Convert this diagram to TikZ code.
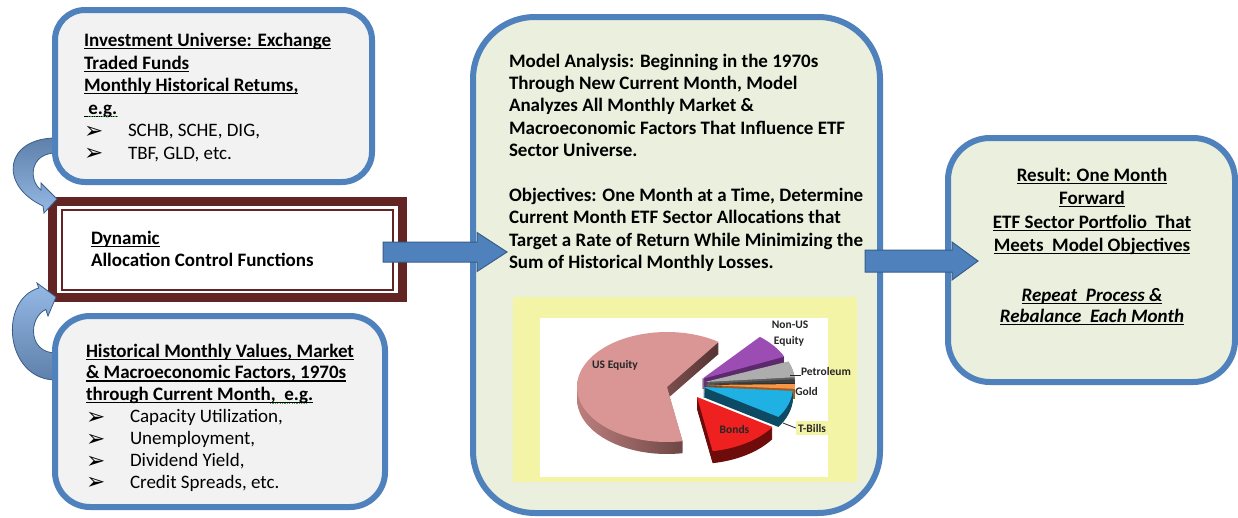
\documentclass[tikz,border=0pt]{standalone}
\usepackage{fontspec}
\setmainfont{Carlito}
\newfontfamily\dejavu{DejaVu Sans}
\usetikzlibrary{calc}
\definecolor{bord}{HTML}{4F81BD}
\definecolor{grayfill}{HTML}{F2F2F2}
\definecolor{greenfill}{HTML}{EAF0DD}
\definecolor{maroonc}{HTML}{632523}
\definecolor{arrowline}{HTML}{385D8A}
\definecolor{chartyellow}{HTML}{F4F4A6}
\definecolor{cdark}{HTML}{5E80AA}
\definecolor{clight}{HTML}{95B9E5}
\definecolor{labeltext}{HTML}{262626}
\definecolor{squig}{HTML}{3CA845}
\definecolor{usTop}{HTML}{D99694}
\definecolor{usSideL}{HTML}{C48684}
\definecolor{usSideR}{HTML}{553332}
\definecolor{purpTop}{HTML}{9B4DB3}
\definecolor{purpSide}{HTML}{5C2A6C}
\definecolor{grayTop}{HTML}{ADADAD}
\definecolor{graySide}{HTML}{5F5F5F}
\definecolor{darkTop}{HTML}{404040}
\definecolor{darkSide}{HTML}{2A2A2A}
\definecolor{goldTop}{HTML}{F79646}
\definecolor{goldSide}{HTML}{A35A1E}
\definecolor{tbTop}{HTML}{1FB0E4}
\definecolor{tbSide}{HTML}{0D4A63}
\definecolor{bondTop}{HTML}{EE2020}
\definecolor{bondSide}{HTML}{6E0B0B}
\newcommand\myul[1]{\setbox0\hbox{#1}\rlap{\rule[-2.6pt]{\wd0}{1.1pt}}\box0}
\newcommand\bul{\makebox[44pt][l]{\hspace{0pt}{\dejavu\fontsize{23}{23}\selectfont\raisebox{-1.5pt}{➢}}}}
\newcommand\sst{\rule{0pt}{15pt}}
\newcommand\myslice[7]{%
  \foreach \d in {#7,...,1}{%
    \fill[#6] (#1,#2-\d) -- ++(#3:90 and 55) arc[start angle=#3,end angle=#4,x radius=90,y radius=55] -- cycle;}%
  \fill[#5] (#1,#2) -- ++(#3:90 and 55) arc[start angle=#3,end angle=#4,x radius=90,y radius=55] -- cycle;}
\begin{document}
\begin{tikzpicture}[x=1pt,y=-1pt,
  bluebox/.style={draw=bord,line width=6pt,rounded corners=#1,inner sep=0pt,outer sep=0pt},
  txt/.style={inner sep=0pt,outer sep=0pt,align=left,font=\fontsize{19}{22.5}\selectfont\bfseries},
  lbl/.style={inner sep=0pt,font=\fontsize{11.5}{12}\selectfont\bfseries,text=labeltext},
  barrow/.style={fill=bord,draw=arrowline,line width=1pt},
  carrow/.style={draw=arrowline,line width=0.8pt}]

\fill[white] (0,0) rectangle (1238,517);
\useasboundingbox (0,0) rectangle (1238,517);

% dynamic box
\node[draw=maroonc,line width=9pt,fill=white,inner sep=0pt,outer sep=0pt,minimum width=350pt,minimum height=96pt] (dyn) at (227.5,249.5) {};
\draw[maroonc,line width=2pt] ($(dyn.north west)+(9.5,8)$) rectangle ($(dyn.south east)+(-10,-8)$);
\node[txt,anchor=north west,font=\fontsize{19}{22}\selectfont\bfseries] (dyntxt) at (91,229) {\sst\myul{Dynamic}\\Allocation Control Functions};

% curved arrows
\path[carrow,shade,top color=cdark,bottom color=clight] (56,138) .. controls (5,138) and (-2,185) .. (43,206) -- (44,213) -- (57,199) -- (41,183) -- (41,190) .. controls (28,180) and (30,153) .. (56,153) -- cycle;
\path[carrow,shade,top color=clight,bottom color=cdark] (56,380) .. controls (5,380) and (-2,300) .. (38.7,288) -- (37,283) -- (56,297) -- (48,316) -- (45.8,309.4) .. controls (28,318) and (28,353) .. (56,353) -- cycle;

% boxes
\node[bluebox=30pt,fill=grayfill,minimum width=317pt,minimum height=172pt] (tl) at (213.5,96) {};
\node[bluebox=35pt,fill=grayfill,minimum width=330pt,minimum height=191pt] (bl) at (220,411.5) {};
\node[bluebox=62pt,fill=greenfill,minimum width=407pt,minimum height=496pt] (mid) at (676.5,265) {};
\node[bluebox=42pt,fill=greenfill,minimum width=287pt,minimum height=244pt] (rt) at (1091.5,260) {};

% texts
\node[txt,anchor=north west] (tltxt) at (84,31.5) {\sst\myul{Investment Universe: Exchange}\\
\myul{Traded Funds}\\
\myul{Monthly Historical Retums,}\\
\myul{\ e.g.}\\
{\mdseries\bul SCHB, SCHE, DIG,}\\
{\mdseries\bul TBF, GLD, etc.}};
\draw[squig,line width=1pt,dash pattern=on 1.2pt off 1.2pt] (88,116.5) -- (117,116.5);

\node[txt,anchor=north west,font=\fontsize{19}{21.9}\selectfont\bfseries] (bltxt) at (86,342) {\sst\myul{Historical Monthly Values, Market}\\
\myul{\& Macroeconomic Factors, 1970s}\\
\myul{through Current Month,\ \ e.g.}\\
{\mdseries\bul Capacity Utilization,}\\
{\mdseries\bul Unemployment,}\\
{\mdseries\bul Dividend Yield,}\\
{\mdseries\bul Credit Spreads, etc.}};
\draw[squig,line width=1pt,dash pattern=on 1.2pt off 1.2pt] (270,403.5) -- (308,403.5);

\node[txt,anchor=north west,font=\fontsize{19}{22.4}\selectfont\bfseries] (midtxt) at (509,52) {\sst Model Analysis: Beginning in the 1970s\\
Through New Current Month, Model\\
Analyzes All Monthly Market \&\\
Macroeconomic Factors That Influence ETF\\
Sector Universe.\\[22.4pt]
Objectives: One Month at a Time, Determine\\
Current Month ETF Sector Allocations that\\
Target a Rate of Return While Minimizing the\\
Sum of Historical Monthly Losses.};

\node[txt,anchor=north,align=center,font=\fontsize{19}{23.5}\selectfont\bfseries] (rttxt) at (1092,166) {\sst\myul{Result: One Month}\\
\myul{Forward}\\
\myul{ETF Sector Portfolio\ \ That}\\
\myul{Meets\ \ Model Objectives}\\[26.5pt]
{\itshape\myul{Repeat\ \ Process \&}}\\[-2.5pt]
{\itshape\myul{Rebalance\ \ Each Month}}};

% chart
\fill[chartyellow] (513,297) rectangle (857,482);
\fill[white] (540,318) rectangle (828,477);
\begin{scope}[shift={(667pt,-387pt)},y=1pt]
  \foreach \d in {12,...,1}{%
    \shade[left color=usSideL,right color=usSideR] (0,-\d) -- ++(55:90 and 55) arc[start angle=55,end angle=280,x radius=90,y radius=55] -- cycle;}
  \fill[usTop] (0,0) -- ++(55:90 and 55) arc[start angle=55,end angle=280,x radius=90,y radius=55] -- cycle;
  \myslice{35}{8}{24}{50}{purpTop}{purpSide}{10}
  \myslice{38}{5}{5}{22}{grayTop}{graySide}{10}
  \myslice{38}{3}{1}{5}{darkTop}{darkSide}{10}
  \myslice{38}{2}{-4}{1}{goldTop}{goldSide}{10}
  \myslice{36}{0}{-33}{-4}{tbTop}{tbSide}{10}
  \myslice{30}{-10}{-80}{-33}{bondTop}{bondSide}{12}
\end{scope}
\node[lbl] (lus) at (615,365) {US Equity};
\node[lbl] (lnon) at (790,325) {Non-US};
\node[lbl] (lnon2) at (789,341) {Equity};
\node[lbl] (lpet) at (826,371) {Petroleum};
\coordinate (petl) at (790,375.5);
\draw[labeltext,line width=0.8pt] (petl) -- (petl -| lpet.west);
\node[lbl] (lgold) at (806.5,391) {Gold};
\node[lbl] (lbond) at (734.5,429) {Bonds};
\node[lbl,fill=chartyellow,inner xsep=2pt,inner ysep=3pt] (ltb) at (812,428) {T-Bills};
\coordinate (tbl) at (783,423);
\draw[labeltext,line width=0.8pt] (tbl) -- (ltb.west);

% block arrows
\coordinate (a1s) at (383,252);
\coordinate (a2s) at (865,261);
\draw[barrow,shift={(a1s)}] (0,-10) -- (94,-10) -- (94,-19.5) -- (124,0) -- (94,19.5) -- (94,10) -- (0,10) -- cycle;
\draw[barrow,shift={(a2s)}] (0,-11) -- (87,-11) -- (87,-19) -- (113,0) -- (87,19) -- (87,11) -- (0,11) -- cycle;
\end{tikzpicture}
\end{document}
